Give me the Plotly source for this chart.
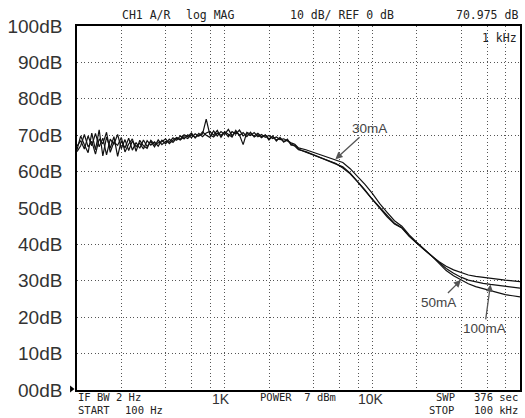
import math
import plotly.graph_objects as go

# ---------------- data ----------------
freq_hz = [
    100, 105.9, 112.2, 118.9, 125.9, 133.4, 141.3, 149.6, 158.5, 167.9,
    177.8, 188.4, 199.5, 211.3, 223.9, 237.1, 251.2, 266.1, 281.8, 298.5,
    316.2, 335.0, 354.8, 375.8, 398.1, 421.7, 446.7, 473.2, 501.2, 530.9,
    562.3, 595.7, 631.0, 668.3, 707.9, 749.9, 794.3, 841.4, 891.3, 944.1,
    1000, 1059, 1122, 1189, 1259, 1334, 1413, 1496, 1585, 1679,
    1778, 1884, 1995, 2113, 2239, 2371, 2512, 2661, 2818, 2985,
    3162, 3548, 3981, 4467, 5012, 5623, 6310, 7079, 7943, 8913,
    10000, 11220, 12589, 14125, 15849, 17783, 19953, 22387, 25119, 28184,
    31623, 35481, 39811, 44668, 50119, 56234, 63096, 70795, 79433, 89125,
    100000,
]

# upper curve in the roll-off (labelled 30mA)
trace_30mA = [
    67.0, 68.5, 66.2, 69.8, 67.1, 70.5, 66.8, 69.2, 64.6, 68.9,
    67.5, 70.2, 66.3, 68.8, 65.8, 68.4, 66.9, 67.8, 66.2, 68.5,
    67.3, 68.2, 67.0, 68.6, 67.6, 68.9, 68.0, 69.2, 68.7, 69.6,
    69.1, 70.2, 69.4, 70.0, 70.3, 74.4, 70.1, 69.5, 70.6, 70.0,
    70.8, 69.6, 71.0, 70.3, 71.4, 69.8, 70.5, 69.9, 70.7, 69.6,
    70.2, 69.4, 69.9, 69.1, 69.5, 68.8, 69.0, 68.4, 67.9, 67.5,
    66.5, 66.0, 65.3, 64.6, 64.0, 63.4, 62.5, 60.8, 58.7, 56.5,
    54.0, 51.2, 48.8, 46.5, 45.0, 42.6, 40.6, 38.7, 36.9, 35.3,
    34.0, 33.0, 32.2, 31.6, 31.2, 30.9, 30.7, 30.4, 30.2, 30.0,
    29.8,
]

# middle curve at high frequency (arrow labelled 100mA)
trace_100mA = [
    66.0, 69.8, 67.4, 65.2, 70.6, 66.0, 71.5, 64.3, 69.5, 66.4,
    69.6, 64.2, 68.5, 66.5, 69.2, 65.9, 68.0, 66.4, 68.7, 66.9,
    68.3, 66.8, 68.7, 67.4, 68.3, 68.1, 69.3, 68.6, 69.8, 69.0,
    70.1, 69.3, 70.4, 69.7, 70.9, 70.0, 69.4, 71.2, 69.8, 71.0,
    70.2, 71.6, 69.9, 70.9, 70.1, 67.4, 70.8, 70.3, 69.8, 70.5,
    69.6, 70.0, 69.0, 69.6, 68.7, 69.1, 68.3, 68.6, 67.6, 67.0,
    66.0, 65.5, 64.7, 63.7, 63.0, 62.2, 61.3, 59.6, 57.4, 55.0,
    52.4, 50.1, 47.9, 45.8, 44.6, 42.3, 40.4, 38.6, 36.9, 35.1,
    33.4, 32.1, 31.0, 30.2, 29.7, 29.3, 29.0, 28.7, 28.4, 28.2,
    28.0,
]

# lowest curve at high frequency (arrow labelled 50mA)
trace_50mA = [
    65.5, 67.1, 70.2, 66.8, 68.3, 64.8, 69.0, 67.6, 70.8, 65.3,
    68.1, 67.2, 69.4, 65.4, 67.6, 69.0, 65.6, 68.6, 67.1, 66.4,
    68.6, 67.5, 67.9, 68.2, 69.0, 67.7, 68.6, 69.4, 68.9, 70.1,
    69.6, 70.6, 69.2, 70.5, 69.6, 70.6, 71.0, 70.0, 71.3, 69.4,
    71.0, 70.3, 69.5, 71.3, 69.9, 70.7, 69.6, 70.8, 69.5, 70.1,
    69.3, 70.1, 68.7, 69.8, 68.4, 69.4, 68.1, 68.9, 67.3, 67.3,
    66.2, 65.3, 64.5, 63.9, 62.9, 62.3, 61.0, 59.4, 57.2, 54.8,
    52.6, 49.9, 47.6, 45.6, 44.5, 42.2, 40.3, 38.6, 36.9, 34.8,
    32.8, 31.4, 30.2, 29.2, 28.4, 27.8, 27.3, 26.7, 26.2, 25.9,
    25.6,
]

y_tick_vals = [0, 10, 20, 30, 40, 50, 60, 70, 80, 90, 100]
y_tick_text = ["00dB", "10dB", "20dB", "30dB", "40dB", "50dB",
               "60dB", "70dB", "80dB", "90dB", "100dB"]
x_grid_vals = [200, 400, 600, 800, 1000, 2000, 4000, 6000, 8000,
               10000, 20000, 40000, 60000, 80000]

# ---------------- layout helpers ----------------
W, H = 525, 418
L, R, T, B = 77, 3, 26, 28
PW, PH = W - L - R, H - T - B


def px(x):
    return (x - L) / PW


def py(y):
    return (H - B - y) / PH


fig = go.Figure()
for ys in (trace_30mA, trace_100mA, trace_50mA):
    fig.add_trace(go.Scatter(
        x=freq_hz, y=ys, mode="lines",
        line=dict(color="#111111", width=1.2),
        showlegend=False, hoverinfo="skip",
    ))

mono = "DejaVu Sans Mono"
sans = "Liberation Sans, Arial"
anns = []


def txt(s, x, y, xa="left", size=11.5, fam=mono, col="#222222"):
    anns.append(dict(text=s, x=px(x), y=py(y), xref="paper", yref="paper",
                     xanchor=xa, yanchor="middle", showarrow=False,
                     borderpad=0,
                     font=dict(family=fam, size=size, color=col)))


# header
txt("CH1 A/R", 121, 15)
txt("log MAG", 185, 15)
txt("10 dB/ REF 0 dB", 290, 15)
txt("70.975 dB", 521, 15, xa="right")
txt("1 kHz", 520, 38, xa="right")
# footer (two tight rows of instrument text)
FS = 10.5
txt("IF BW 2 Hz", 77, 396.5, size=FS)
txt("1K", 221.5, 399, xa="center", size=14, fam=sans, col="#333333")
txt("POWER  7 dBm", 260, 396.5, size=FS)
txt("10K", 372, 399, xa="center", size=14, fam=sans, col="#333333")
txt("SWP", 437, 396.5, size=FS)
txt("376 sec", 521, 396.5, xa="right", size=FS)
txt("START", 77, 410, size=FS)
txt("100 Hz", 124, 410, size=FS)
txt("STOP", 430, 410, size=FS)
txt("100 kHz", 521, 410, xa="right", size=FS)


def arrow_label(s, idx, ys, ax, ay):
    anns.append(dict(text=s, x=math.log10(freq_hz[idx]), y=ys[idx],
                     xref="x", yref="y", ax=ax, ay=ay, showarrow=True,
                     arrowhead=2, arrowsize=1.1, arrowwidth=1.3,
                     arrowcolor="#555555",
                     font=dict(family=sans, size=13.5, color="#444444")))


arrow_label("30mA", freq_hz.index(5623), trace_30mA, 34, -31)
arrow_label("50mA", freq_hz.index(39811), trace_50mA, -22, 22)
arrow_label("100mA", freq_hz.index(63096), trace_100mA, -6, 44)

fig.update_layout(
    width=W, height=H,
    margin=dict(l=L, r=R, t=T, b=B, pad=0),
    paper_bgcolor="white", plot_bgcolor="white",
    annotations=anns,
    shapes=[dict(type="path", xref="paper", yref="paper",
                 path=f"M {px(70)} {py(385.5)} L {px(74.5)} {py(389)} L {px(70)} {py(392.5)} Z",
                 fillcolor="black", line=dict(width=0))],
)
grid_common = dict(showgrid=True, gridcolor="#555555", gridwidth=1.2,
                   griddash="1px,2.5px", showline=True, mirror=True,
                   linecolor="black", linewidth=1.6, zeroline=False)
fig.update_xaxes(
    type="log", range=[2, 5],
    tickvals=x_grid_vals, showticklabels=False, ticks="",
    **grid_common,
)
fig.update_yaxes(
    range=[0, 100], tickvals=y_tick_vals, ticktext=y_tick_text,
    ticks="", ticklabelstandoff=9,
    tickfont=dict(family=sans, size=19, color="#333333"),
    **grid_common,
)

fig.write_html("out.html")
